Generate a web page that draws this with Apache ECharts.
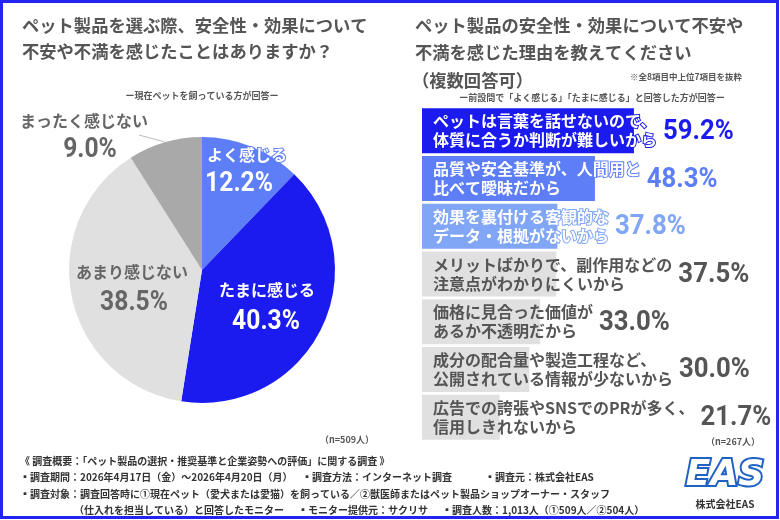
<!DOCTYPE html>
<html><head><meta charset="utf-8">
<script src="https://cdn.jsdelivr.net/npm/echarts@6/dist/echarts.min.js"></script>
<style>html,body{margin:0;padding:0;background:#fff}#c{width:780px;height:520px}</style>
</head><body><div id="c"></div>
<script>
const pieNames = ['よく感じる', 'たまに感じる', 'あまり感じない', 'まったく感じない'];
const pieValues = [12.2, 40.3, 38.5, 9.0];

const barCategories = [
  'ペットは言葉を話せないので、\n体質に合うか判断が難しいから',
  '品質や安全基準が、人間用と\n比べて曖昧だから',
  '効果を裏付ける客観的な\nデータ・根拠がないから',
  'メリットばかりで、副作用などの\n注意点がわかりにくいから',
  '価格に見合った価値が\nあるか不透明だから',
  '成分の配合量や製造工程など、\n公開されている情報が少ないから',
  '広告での誇張やSNSでのPRが多く、\n信用しきれないから'
];
const barValues = [59.2, 48.3, 37.8, 37.5, 33.0, 30.0, 21.7];

const JP = '"Noto Sans CJK JP", "Noto Sans CJK SC", sans-serif';
const NUM = 'Roboto, "DejaVu Sans", sans-serif';
const DEEP = '#1b1bf0', MID = '#5d7ef6', LIGHT = '#80a6f5', GREY = '#e0e0e0', DGREY = '#a9a9a9';
const TXT = '#555';

const pieColors = [MID, DEEP, GREY, DGREY];
const pieLabelColors = ['#fff', '#fff', '#666', '#666'];
const pieNamePos = [[247, 155], [267, 290], [132, 272], [84, 121]];
const piePctPos = [[239, 184], [266, 322], [134, 303], [90, 150]];

const barColors = [DEEP, MID, LIGHT, GREY, GREY, GREY, GREY];
const barTextColors = ['#fff', '#fff', '#fff', TXT, TXT, TXT, TXT];
const pctColors = [DEEP, MID, LIGHT, TXT, TXT, TXT, TXT];

// measure label widths to place percentages after the text
const cv = document.createElement('canvas').getContext('2d');
cv.font = 'bold 16px ' + JP;
const textW = barCategories.map(s => Math.max(...s.split('\n').map(l => cv.measureText(l).width)));

const chart = echarts.init(document.getElementById('c'), null, {renderer: 'canvas'});

const g = [];
function t(x, y, text, size, opts) {
  g.push(Object.assign({type: 'text', x: x, y: y, silent: true,
    style: Object.assign({text: text, font: 'bold ' + size + 'px ' + JP, fill: TXT,
      verticalAlign: 'middle', align: 'left'}, opts || {})}));
}
// titles
t(22, 25, 'ペット製品を選ぶ際、安全性・効果について', 17.3);
t(22, 51, '不安や不満を感じたことはありますか？', 17.3);
t(202, 96, 'ー現在ペットを飼っている方が回答ー', 9, {align: 'center'});
t(415, 25, 'ペット製品の安全性・効果について不安や', 17.3);
t(415, 52, '不満を感じた理由を教えてください', 17.3);
t(412, 80, '（複数回答可）', 17.3);
t(742, 77, '※全8項目中上位7項目を抜粋', 8.5, {align: 'right'});
t(592, 98, 'ー前設問で「よく感じる」「たまに感じる」と回答した方が回答ー', 9, {align: 'center'});
t(374, 440, '（n=509人）', 9, {align: 'right'});
t(760, 442, '（n=267人）', 9, {align: 'right'});
// footer
const F = 10, FC = '#333';
t(20, 461, '《 調査概要：「ペット製品の選択・推奨基準と企業姿勢への評価」に関する調査 》', F, {fill: FC});
t(20, 477, '▪調査期間：2026年4月17日（金）～2026年4月20日（月）', F, {fill: FC});
t(302, 477, '▪調査方法：インターネット調査', F, {fill: FC});
t(485, 477, '▪調査元：株式会社EAS', F, {fill: FC});
t(20, 494, '▪調査対象：調査回答時に①現在ペット（愛犬または愛猫）を飼っている／②獣医師またはペット製品ショップオーナー・スタッフ', F, {fill: FC});
t(74, 510, '（仕入れを担当している）と回答したモニター', F, {fill: FC});
t(298, 510, '▪モニター提供元：サクリサ', F, {fill: FC});
t(442, 510, '▪調査人数：1,013人（①509人／②504人）', F, {fill: FC});
// logo
g.push({type: 'text', x: 725, y: 476, silent: true,
  style: {text: 'EAS', font: 'italic bold 36px "DejaVu Sans", sans-serif', fill: '#fff',
    stroke: '#1f62c4', lineWidth: 4, align: 'center', verticalAlign: 'middle'}});
t(725, 504, '株式会社EAS', 10, {fill: '#333', align: 'center'});
// frame
g.push({type: 'rect', silent: true, shape: {x: 1.5, y: 1.5, width: 776, height: 516},
  style: {fill: 'none', stroke: '#2323f2', lineWidth: 3}});

const pieData = pieNames.map((n, i) => ({
  name: n, value: pieValues[i],
  itemStyle: {color: pieColors[i]},
  label: {
    position: i === 3 ? 'outside' : 'inside',
    color: pieLabelColors[i],
    textBorderColor: i < 2 ? pieColors[i] : 'transparent',
    textBorderWidth: i < 2 ? 2 : 0
  },
  labelLine: {show: i === 3, lineStyle: {color: '#bbb', width: 1}}
}));

const option = {
  backgroundColor: '#fff',
  animation: false,
  grid: {left: 422, top: 107, width: 378.4, height: 334},
  xAxis: {type: 'value', min: 0, max: 100, show: false},
  yAxis: {type: 'category', data: barCategories, inverse: true, show: false},
  series: [
    {
      type: 'pie', center: [202, 270], radius: 133, startAngle: 90, clockwise: true,
      avoidLabelOverlap: false, z: 2,
      label: {show: true, formatter: '{b}', fontFamily: JP, fontWeight: 'bold', fontSize: 16},
      labelLayout: function (params) {
        const i = params.dataIndex;
        const r = {x: pieNamePos[i][0], y: pieNamePos[i][1], align: 'center', verticalAlign: 'middle'};
        if (i === 3) r.labelLinePoints = [[165, 142], [150, 138], [139, 135]];
        return r;
      },
      data: pieData
    },
    {
      type: 'custom', coordinateSystem: 'none', z: 20,
      data: pieValues,
      renderItem: function (params, api) {
        const i = params.dataIndex;
        return {type: 'text', x: piePctPos[i][0], y: piePctPos[i][1], scaleX: 0.88, z2: 100,
          style: {text: pieValues[i].toFixed(1) + '%', font: 'bold 28px ' + NUM,
            fill: pieLabelColors[i], align: 'center', verticalAlign: 'middle'}};
      }
    },
    {
      type: 'bar', barWidth: 45,
      data: barValues.map((v, i) => ({
        value: v, itemStyle: {color: barColors[i]},
        label: {color: barTextColors[i], textBorderColor: i < 3 ? barColors[i] : 'transparent', textBorderWidth: i < 3 ? 2 : 0}
      })),
      label: {show: true, position: 'insideLeft', distance: 11, formatter: '{b}',
        fontFamily: JP, fontWeight: 'bold', fontSize: 16, lineHeight: 19}
    },
    {
      type: 'custom', z: 20,
      data: barValues.map((v, i) => [v, i]),
      encode: {x: 0, y: 1},
      renderItem: function (params, api) {
        const i = params.dataIndex;
        const p0 = api.coord([0, i]);
        return {type: 'text', x: p0[0] + 11 + textW[i] + 6, y: p0[1] + 1, scaleX: 0.92,
          style: {text: barValues[i].toFixed(1) + '%', font: 'bold 28px ' + NUM, fill: pctColors[i],
            align: 'left', verticalAlign: 'middle'}};
      }
    }
  ],
  graphic: g
};
chart.setOption(option);
</script></body></html>
